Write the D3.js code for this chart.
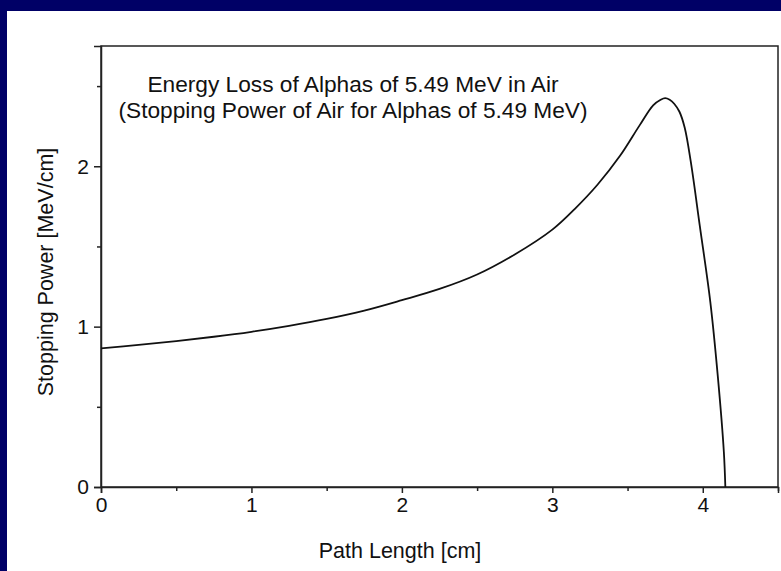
<!DOCTYPE html>
<html>
<head>
<meta charset="utf-8">
<script src="https://cdn.jsdelivr.net/npm/d3@7"></script>
<style>
  html, body { margin: 0; padding: 0; background: #000066; }
  svg { display: block; }
  text { font-family: Arial, "Liberation Sans", sans-serif; fill: #111; }
</style>
</head>
<body>
<svg id="chart" width="781" height="571"></svg>
<script>
// Stopping power of air for 5.49 MeV alpha particles (Bragg curve)
const pathLength = [0, 0.25, 0.5, 0.75, 1.0, 1.25, 1.5, 1.75, 2.0, 2.25, 2.5, 2.75, 3.0, 3.15, 3.3, 3.45, 3.58, 3.67, 3.72, 3.75, 3.78, 3.81, 3.845, 3.88, 3.92, 3.98, 4.05, 4.1, 4.14, 4.15];
const stoppingPower = [0.864, 0.886, 0.91, 0.937, 0.968, 1.005, 1.048, 1.10, 1.165, 1.235, 1.325, 1.45, 1.605, 1.735, 1.885, 2.065, 2.255, 2.38, 2.415, 2.425, 2.415, 2.39, 2.34, 2.24, 2.03, 1.63, 1.155, 0.69, 0.22, 0];

const xTicks = [0, 1, 2, 3, 4];
const yTicks = [0, 1, 2];
const xDomain = [0, 4.5];
const yDomain = [0, 2.75];

const titleLines = [
  "Energy Loss of Alphas of 5.49 MeV in Air",
  "(Stopping Power of Air for Alphas of 5.49 MeV)"
];
const xTitle = "Path Length [cm]";
const yTitle = "Stopping Power [MeV/cm]";

const svg = d3.select("#chart");

// white slide panel
svg.append("rect").attr("x", 7).attr("y", 11).attr("width", 774).attr("height", 560).attr("fill", "#ffffff");

const plot = { left: 101, top: 46, right: 778, bottom: 487 };
const x = d3.scaleLinear().domain(xDomain).range([plot.left, plot.right]);
const y = d3.scaleLinear().domain(yDomain).range([plot.bottom, plot.top]);

const axisColor = "#222";

// frame
svg.append("rect")
  .attr("x", plot.left).attr("y", plot.top)
  .attr("width", plot.right - plot.left).attr("height", plot.bottom - plot.top)
  .attr("fill", "none").attr("stroke", axisColor).attr("stroke-width", 1.5);

// minor ticks
const xMinor = d3.range(0.5, 4.51, 1);
const yMinor = d3.range(0.5, 2.76, 1);

svg.append("g").attr("transform", `translate(0,${plot.bottom})`)
  .call(d3.axisBottom(x).tickValues(xTicks).tickFormat(d3.format("d")).tickSize(6).tickPadding(4));
svg.append("g").attr("transform", `translate(0,${plot.bottom})`)
  .call(d3.axisBottom(x).tickValues(xMinor).tickFormat("").tickSize(4))
  .call(g => g.select(".domain").remove());

svg.append("g").attr("transform", `translate(${plot.left},0)`)
  .call(d3.axisLeft(y).tickValues(yTicks).tickFormat(d3.format("d")).tickSize(7).tickPadding(5));
svg.append("g").attr("transform", `translate(${plot.left},0)`)
  .call(d3.axisLeft(y).tickValues(yMinor).tickFormat("").tickSize(4))
  .call(g => g.select(".domain").remove());

svg.selectAll(".domain").attr("stroke", axisColor).attr("stroke-width", 1.5);
svg.selectAll(".tick line").attr("stroke", axisColor).attr("stroke-width", 1.5);
svg.selectAll(".tick text").attr("font-size", 21).attr("font-family", "Arial, 'Liberation Sans', sans-serif").attr("fill", "#111");

// curve
const pts = pathLength.map((d, i) => [d, stoppingPower[i]]);
svg.append("path")
  .datum(pts)
  .attr("fill", "none")
  .attr("stroke", "#111")
  .attr("stroke-width", 1.8)
  .attr("d", d3.line().x(d => x(d[0])).y(d => y(d[1])).curve(d3.curveCatmullRom.alpha(0.5)));

// in-plot title
svg.append("g").selectAll("text").data(titleLines).join("text")
  .attr("x", 353).attr("y", (d, i) => 92 + i * 26)
  .attr("text-anchor", "middle").attr("font-size", 22.7)
  .text(d => d);

// axis titles
svg.append("text").attr("x", 400).attr("y", 558).attr("text-anchor", "middle")
  .attr("font-size", 21.5).text(xTitle);
svg.append("text").attr("transform", "translate(53,272) rotate(-90)")
  .attr("text-anchor", "middle").attr("font-size", 21.5).text(yTitle);
</script>
</body>
</html>
